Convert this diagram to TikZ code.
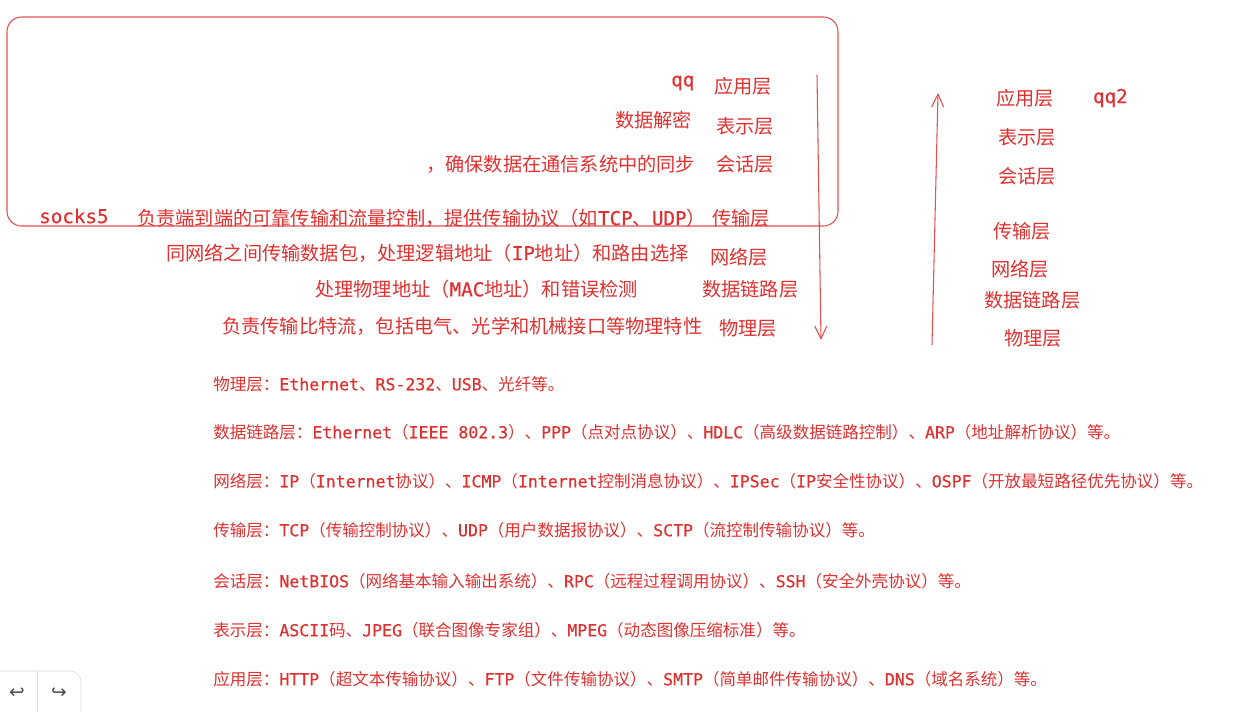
\documentclass[tikz,border=0pt]{standalone}
\usepackage{fontspec}
\setmainfont{DejaVu Sans Mono}[FakeBold=0.5]
\newfontfamily\hanfont{Noto Sans CJK SC}
\newfontfamily\monofont{DejaVu Sans Mono}[FakeBold=0.5]
\newfontfamily\symfont{DejaVu Sans}
\usetikzlibrary{arrows.meta,positioning}
\definecolor{exred}{HTML}{E03131}

% Han characters and full-width punctuation go to the CJK face, the rest stays mono
\XeTeXinterchartokenstate=1
\newXeTeXintercharclass\hanclass
\newcommand\sethanrange[2]{%
  \count255=#1
  \loop\ifnum\count255<#2
    \XeTeXcharclass\count255=\hanclass
    \advance\count255 by 1
  \repeat}
\sethanrange{"3000}{"3040}
\sethanrange{"4E00}{"A000}
\sethanrange{"FF00}{"FFF0}
\XeTeXinterchartoks 0 \hanclass = {\hanfont}
\XeTeXinterchartoks 4095 \hanclass = {\hanfont}
\XeTeXinterchartoks \hanclass 0 = {\monofont}

\begin{document}
\begin{tikzpicture}[
  x=0.75pt, y=-0.75pt,
  >={Straight Barb[length=9.5pt,width=9pt]},
  txt/.style={inner sep=0pt, anchor=west, text=exred, font=\fontsize{14.4}{17}\selectfont},
  proto/.style={txt, font=\fontsize{12.4}{15}\selectfont},
  sketch/.style={draw=exred, draw opacity=0.85, line width=0.8pt},
  uibtn/.style={inner sep=0pt, text=black!70, font=\symfont\fontsize{14}{15}\selectfont},
]
\useasboundingbox[fill=white] (0,0) rectangle (1239,711);

% upper frame round application / presentation / session
\draw[sketch, rounded corners=11pt] (7,17) rectangle (838,226);

% sender stack
\node[txt] (lapp) at (714,86)  {应用层};
\node[txt] (lpre) at (716,126) {表示层};
\node[txt] (lses) at (716,164) {会话层};
\node[txt] (ltra) at (712,218) {传输层};
\node[txt] (lnet) at (710,257) {网络层};
\node[txt] (llnk) at (702,289) {数据链路层};
\node[txt] (lphy) at (719,328) {物理层};

% notes beside the layers
\node[txt] (nqq)    at (671,83)  {qq};
\node[txt] (npre)   at (615,120) {数据解密};
\node[txt] (nses)   at (426,164) {，确保数据在通信系统中的同步};
\node[txt] (nsocks) at (39,216)  {socks5};
\node[txt] (ntra)   at (137,218) {负责端到端的可靠传输和流量控制，提供传输协议（如TCP、UDP）};
\node[txt] (nnet)   at (166,253) {同网络之间传输数据包，处理逻辑地址（IP地址）和路由选择};
\node[txt] (nlnk)   at (315,289) {处理物理地址（MAC地址）和错误检测};
\node[txt] (nphy)   at (222,326) {负责传输比特流，包括电气、光学和机械接口等物理特性};

% receiver stack
\node[txt] (rapp) at (996,98)  {应用层};
\node[txt, right=29pt of rapp] (rqq) {qq2};
\node[txt] (rpre) at (998,137) {表示层};
\node[txt] (rses) at (998,176) {会话层};
\node[txt] (rtra) at (993,231) {传输层};
\node[txt] (rnet) at (991,269) {网络层};
\node[txt] (rlnk) at (984,300) {数据链路层};
\node[txt] (rphy) at (1004,338) {物理层};

% down the sender, up the receiver
\coordinate (downtop) at (817,75);
\coordinate (downbot) at (821,340);
\coordinate (upbot) at (932,345);
\coordinate (uptop) at (938,93);
\draw[sketch, ->] (downtop) -- (downbot);
\draw[sketch, ->] (upbot) -- (uptop);

% protocols per layer
\node[proto] (pphy) at (213,384) {物理层：Ethernet、RS-232、USB、光纤等。};
\node[proto] (plnk) at (213,432) {数据链路层：Ethernet（IEEE 802.3）、PPP（点对点协议）、HDLC（高级数据链路控制）、ARP（地址解析协议）等。};
\node[proto] (pnet) at (213,481) {网络层：IP（Internet协议）、ICMP（Internet控制消息协议）、IPSec（IP安全性协议）、OSPF（开放最短路径优先协议）等。};
\node[proto] (ptra) at (213,530) {传输层：TCP（传输控制协议）、UDP（用户数据报协议）、SCTP（流控制传输协议）等。};
\node[proto] (pses) at (213,581) {会话层：NetBIOS（网络基本输入输出系统）、RPC（远程过程调用协议）、SSH（安全外壳协议）等。};
\node[proto] (ppre) at (213,630) {表示层：ASCII码、JPEG（联合图像专家组）、MPEG（动态图像压缩标准）等。};
\node[proto] (papp) at (213,679) {应用层：HTTP（超文本传输协议）、FTP（文件传输协议）、SMTP（简单邮件传输协议）、DNS（域名系统）等。};

% undo / redo buttons
\draw[black!15, rounded corners=8pt] (-10,671) rectangle (81,725);
\draw[black!15] (37,671) -- (37,711);
\node[uibtn] (undo) at (17,693) {↩};
\node[uibtn] (redo) at (59,693) {↪};
\end{tikzpicture}
\end{document}
